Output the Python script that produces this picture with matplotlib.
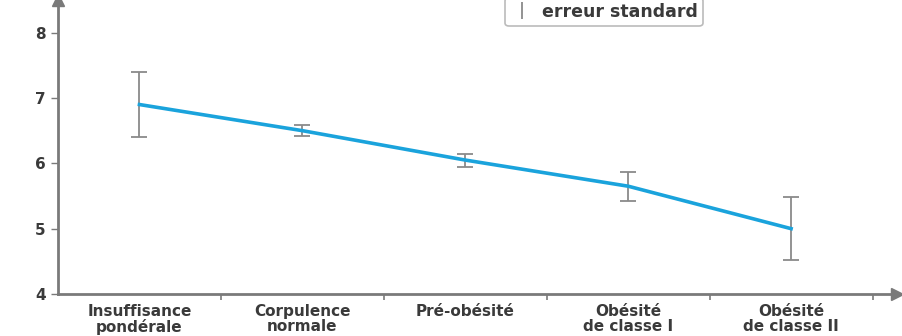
import matplotlib
matplotlib.use("Agg")
import matplotlib.pyplot as plt

# Catégories d'IMC et valeurs
categories = ["Insuffisance\npondérale", "Corpulence\nnormale", "Pré-obésité",
              "Obésité\nde classe I", "Obésité\nde classe II"]
valeurs = [6.9, 6.5, 6.05, 5.65, 5.0]
erreurs = [0.5, 0.08, 0.1, 0.22, 0.48]
yticks = [4, 5, 6, 7, 8]

gris_axe = "#7a7a7a"
gris_texte = "#3a3a3a"
gris_barre = "#8a8a8a"
bleu = "#1aa3dc"

plt.rcParams["font.family"] = ["DejaVu Sans"]

fig = plt.figure(figsize=(9.02, 3.36), dpi=100)
ax = fig.add_axes([58 / 902, 42 / 336, 839 / 902, 1 - 42 / 336])

x = list(range(len(categories)))
ax.errorbar(x, valeurs, yerr=erreurs, color=bleu, linewidth=2.6,
            ecolor=gris_barre, elinewidth=1.3, capsize=6, capthick=1.3, zorder=3)

# poignée de légende : barre d'erreur seule
poignee = ax.errorbar([], [], yerr=[], fmt="none", ecolor=gris_barre,
                      elinewidth=1.3, capsize=4, capthick=1.3)

ax.set_xlim(-0.5, 4.65)
ax.set_ylim(4, 8.5)

# axes avec flèches
for s in ["top", "right"]:
    ax.spines[s].set_visible(False)
for s in ["left", "bottom"]:
    ax.spines[s].set_color(gris_axe)
    ax.spines[s].set_linewidth(2)
ax.plot(0, 1, "^", color=gris_axe, markersize=9, transform=ax.transAxes, clip_on=False)
ax.plot(1, 0, ">", color=gris_axe, markersize=9, transform=ax.transAxes, clip_on=False)

ax.set_yticks(yticks)
ax.set_yticklabels([str(v) for v in yticks], fontsize=11, fontweight="bold", color=gris_texte)
ax.tick_params(axis="y", length=5, width=1, color=gris_axe, pad=4)

ax.set_xticks(x)
ax.set_xticklabels(categories, fontsize=11, fontweight="bold", color=gris_texte,
                   linespacing=1.0)
ax.tick_params(axis="x", length=0, pad=7)
ax.set_xticks([0.5, 1.5, 2.5, 3.5, 4.5], minor=True)
ax.tick_params(axis="x", which="minor", length=4, width=1.2, color=gris_axe)

# légende en haut
leg = fig.legend([poignee], ["erreur standard"], loc="lower center",
                 bbox_to_anchor=(604 / 902, 1 - 26 / 336),
                 fontsize=12.5, frameon=True, fancybox=True, handlelength=1.3,
                 handletextpad=0.5, borderpad=0.3, borderaxespad=0.0)
leg.get_frame().set_edgecolor("#aaaaaa")
leg.get_frame().set_linewidth(1.2)
for t in leg.get_texts():
    t.set_fontweight("bold")
    t.set_color(gris_texte)

fig.savefig("out.png", dpi=100)
